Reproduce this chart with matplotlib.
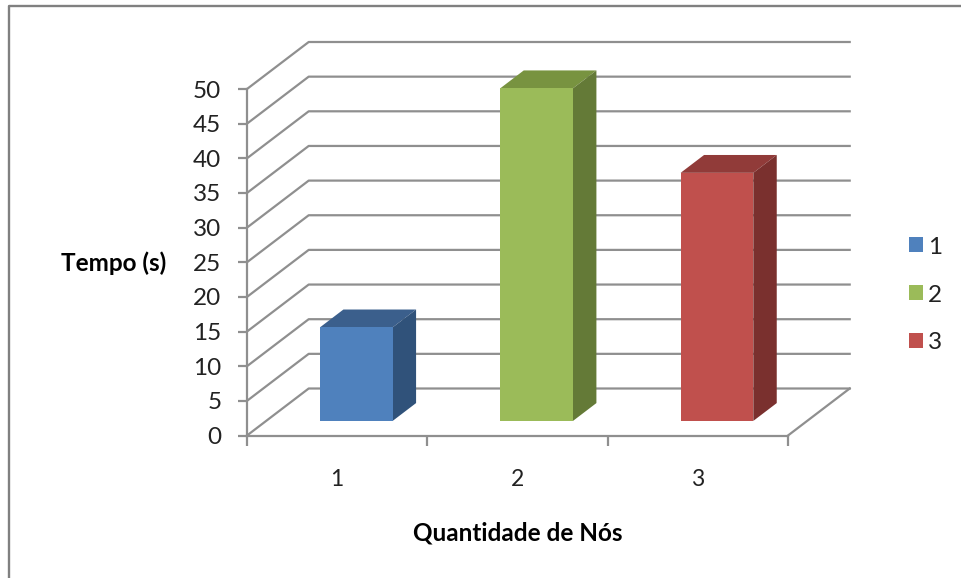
import matplotlib
matplotlib.use('Agg')
import matplotlib.pyplot as plt
from matplotlib.lines import Line2D

# Dados do gráfico
nos = [1, 2, 3]
tempos = [13.5, 48.0, 35.8]
legenda = ['1', '2', '3']
ticks_y = list(range(0, 55, 5))

cor_frente = ['#4F81BD', '#9BBB59', '#C0504D']
cor_topo = ['#3B5F8C', '#789340', '#913B39']
cor_lado = ['#30527A', '#647A37', '#7A302E']
cinza = '#8F8F8F'

L, A = 962, 578
plt.rcParams['font.family'] = ['Lato', 'DejaVu Sans']

fig = plt.figure(figsize=(L / 100, A / 100), dpi=100)

# Moldura externa: apenas topo e lado esquerdo
fig.add_artist(Line2D([9 / L, 9 / L, 1], [0, 1 - 6 / A, 1 - 6 / A],
                      color='#808080', linewidth=1.7))

# Eixos no plano frontal (0 a 50 na vertical, 3 categorias na horizontal)
x0, x1, y0, y1 = 247, 788, 435.5, 89
ax = fig.add_axes([x0 / L, 1 - y0 / A, (x1 - x0) / L, (y0 - y1) / A])
ax.set_xlim(0, 3)
ax.set_ylim(0, 50)
ax.patch.set_visible(False)
for lado in ['top', 'right']:
    ax.spines[lado].set_visible(False)
for lado in ['left', 'bottom']:
    ax.spines[lado].set_color(cinza)
    ax.spines[lado].set_linewidth(1.6)

# Profundidade do efeito 3D em unidades dos dados
prof_x = 61.7 / ((x1 - x0) / 3)
prof_y = 47 / ((y0 - y1) / 50)

# Linhas de grade: diagonal na parede lateral e horizontal na parede do fundo
for v in ticks_y:
    ax.plot([0, prof_x, 3 + prof_x], [v, v + prof_y, v + prof_y],
            color=cinza, linewidth=1.6, clip_on=False, zorder=1)
ax.plot([3, 3 + prof_x], [0, prof_y], color=cinza, linewidth=1.6, clip_on=False, zorder=1)

# Barras com face frontal, topo e lateral
largura = 0.403
ini = 0.31
fim = 0.69
for i, (n, t) in enumerate(zip(nos, tempos)):
    base_x = i + 0.5 + ini * prof_x
    base_y = ini * prof_y
    esq = base_x - largura / 2
    dir_ = base_x + largura / 2
    px = (fim - ini) * prof_x
    py = (fim - ini) * prof_y
    ax.bar(base_x, t, width=largura, bottom=base_y, color=cor_frente[i],
           label=legenda[i], zorder=3, clip_on=False)
    ax.fill([esq, dir_, dir_ + px, esq + px],
            [base_y + t, base_y + t, base_y + t + py, base_y + t + py],
            color=cor_topo[i], linewidth=0, zorder=2, clip_on=False)
    ax.fill([dir_, dir_ + px, dir_ + px, dir_],
            [base_y, base_y + py, base_y + t + py, base_y + t],
            color=cor_lado[i], linewidth=0, zorder=2, clip_on=False)

ax.set_yticks(ticks_y)
ax.set_xticks([0, 1, 2, 3])
ax.set_xticks([0.5, 1.5, 2.5], labels=[str(n) for n in nos], minor=True)
ax.set_xticklabels([])
ax.tick_params(axis='x', which='major', length=7, width=1.6, color=cinza)
ax.tick_params(axis='x', which='minor', length=0, pad=24, labelsize=16.5, labelcolor='#222222')
ax.tick_params(axis='y', length=6.5, width=1.6, color=cinza, pad=12,
               labelsize=17.5, labelcolor='#222222')

fig.text(114 / L, 1 - 263 / A, 'Tempo (s)', ha='center', va='center',
         fontsize=17.5, fontweight='bold', color='black')
fig.text(518 / L, 1 - 533 / A, 'Quantidade de Nós', ha='center', va='center',
         fontsize=17.5, fontweight='bold', color='black')

fig.legend(loc='center left', bbox_to_anchor=(887.4 / L, 1 - 295 / A), frameon=False,
           fontsize=17.5, labelspacing=1.11, handlelength=0.576, handleheight=0.576,
           handletextpad=0.2, labelcolor='#222222')

fig.savefig('out.png', dpi=100, facecolor='white')
